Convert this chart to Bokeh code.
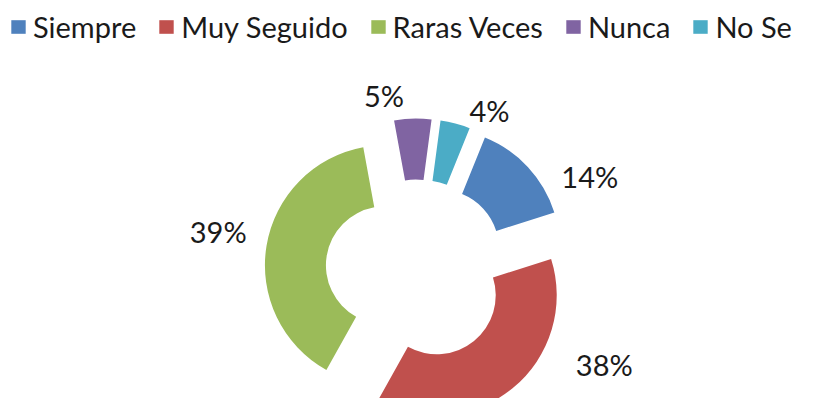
import math
from bokeh.plotting import figure
from bokeh.models import Range1d, Legend, LegendItem, ColumnDataSource
from bokeh.core.properties import value
from bokeh.embed import file_html
from bokeh.resources import INLINE

# ---- data ----
categories = ["Siempre", "Muy Seguido", "Raras Veces", "Nunca", "No Se"]
percent = [14, 38, 39, 5, 4]
labels = ["14%", "38%", "39%", "5%", "4%"]
colors = ["#4F81BD", "#C0504D", "#9BBB59", "#8064A2", "#4BACC6"]

# ---- layout constants (page pixels) ----
W, H = 811, 398
CX, CY = 416, 270          # donut centre
R_IN, R_OUT = 59, 120
EXPLODE = 32
FIRST_ANGLE = 22           # degrees clockwise from 12 o'clock
label_angle_deg = [61.6, 116.6, 281.0, 349.5, 24.5]
label_radius = [197, 210, 202, 178, 176]
FONT = "Lato"

def py(Y):
    return 414 - Y

total = float(sum(percent))
xs, ys, starts, ends = [], [], [], []
cum = FIRST_ANGLE
for v in percent:
    span = 360.0 * v / total
    a1, a2 = cum, cum + span
    mid = math.radians((a1 + a2) / 2)
    xs.append(CX + EXPLODE * math.sin(mid))
    ys.append(py(CY - EXPLODE * math.cos(mid)))
    starts.append(math.radians(90 - a2))
    ends.append(math.radians(90 - a1))
    cum = a2

lx, ly = [], []
for a, r in zip(label_angle_deg, label_radius):
    t = math.radians(a)
    lx.append(CX + r * math.sin(t))
    ly.append(py(CY - r * math.cos(t)))

p = figure(width=W, height=H, output_backend="svg", toolbar_location=None,
           x_range=Range1d(0, W), y_range=Range1d(414 - H, 414),
           x_axis_location=None, y_axis_location=None, min_border=0)
p.grid.visible = False
p.outline_line_color = None
p.background_fill_color = "white"
p.border_fill_color = "white"

items = []
for i in range(len(categories)):
    r = p.annular_wedge(x=xs[i], y=ys[i], inner_radius=R_IN, outer_radius=R_OUT,
                        start_angle=starts[i], end_angle=ends[i],
                        fill_color=colors[i], line_color=None)
    items.append(LegendItem(label=categories[i], renderers=[r]))

src = ColumnDataSource(dict(x=lx, y=ly, t=labels))
p.text(x="x", y="y", text="t", source=src, text_font=value(FONT),
       text_font_size="29px", text_color="#1a1a1a", text_align="center",
       text_baseline="middle")

leg = Legend(items=items, orientation="horizontal", location=(9, H - 44),
             glyph_width=18, glyph_height=17, label_standoff=6, spacing=21,
             padding=0, margin=0, border_line_color=None,
             background_fill_alpha=0, label_text_font=FONT,
             label_text_font_size="29px", label_text_color="#1a1a1a",
             label_height=17)
p.add_layout(leg, "center")

open("out.html", "w").write(file_html(p, INLINE))
